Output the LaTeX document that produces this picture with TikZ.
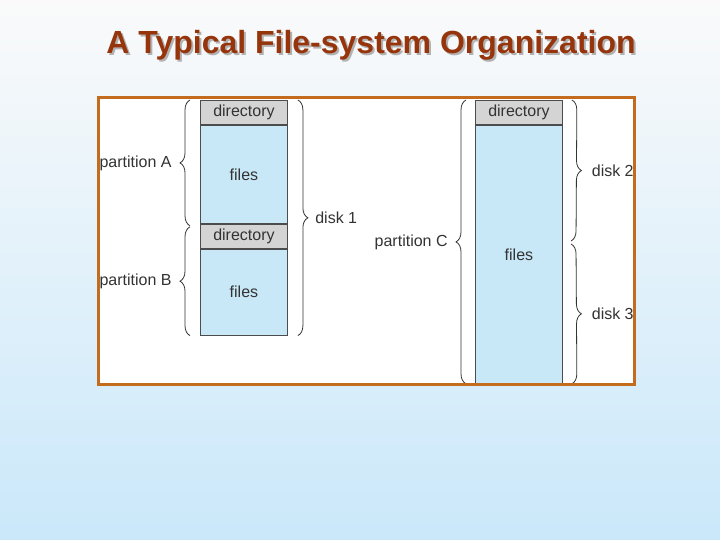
\documentclass[tikz,border=0pt]{standalone}
\usepackage{fontspec}
\setmainfont{Liberation Sans}
\usetikzlibrary{decorations.pathreplacing}

\definecolor{titlebrown}{RGB}{150,52,12}
\definecolor{frameorange}{RGB}{196,108,30}
\definecolor{dirgrey}{RGB}{212,212,212}
\definecolor{fileblue}{RGB}{200,232,248}
\definecolor{bgtop}{RGB}{250,250,250}
\definecolor{bgbottom}{RGB}{202,232,250}

\begin{document}
\begin{tikzpicture}[x=1pt, y=-1pt,
  cell/.style={draw=black!70, line width=0.9pt, inner sep=0pt, anchor=north west,
    minimum width=87pt, font=\fontsize{16}{18}\selectfont, text=black!80},
  dircell/.style={cell, fill=dirgrey, minimum height=24pt},
  filecell/.style={cell, fill=fileblue},
  brace/.style={decorate, decoration={brace, amplitude=10pt}, line width=0.8pt, black!80},
  lbl/.style={font=\fontsize{16}{18}\selectfont, text=black!80, inner sep=0pt}]
% background
\shade[top color=bgtop, bottom color=bgbottom] (0,0) rectangle (720,540);
\useasboundingbox (0,0) rectangle (720,540);

% title with shadow
\path (373,47) node[font=\fontsize{32}{36}\selectfont\bfseries, text=black!30] {A Typical File-system Organization};
\path (371,45) node[font=\fontsize{32}{36}\selectfont\bfseries, text=titlebrown] (title) {A Typical File-system Organization};

\fill[white] (98,98) rectangle (634,384);

\begin{scope}
\clip (98,98) rectangle (634,384);
% disk 1: partitions A and B
\node[dircell] (dirA) at (200,100) {directory};
\node[filecell, minimum height=98pt] (filesA) at (dirA.south west) {files};
\node[dircell] (dirB) at (filesA.south west) {directory};
\node[filecell, minimum height=86pt] (filesB) at (dirB.south west) {files};

% disks 2 and 3: partition C
\node[dircell] (dirC) at (475,100) {directory};
\node[filecell, minimum height=258pt] (filesC) at (dirC.south west) {files};
\coordinate (split) at (571,242);

\draw[brace] ([shift={(-10pt,-2pt)}]filesA.south west) -- ([xshift=-10pt]dirA.north west)
  node[midway, left=18pt, lbl] {partition A};
\draw[brace] ([xshift=-10pt]filesB.south west) -- ([shift={(-10pt,-3pt)}]dirB.north west)
  node[midway, left=18pt, lbl] {partition B};
\draw[brace] ([xshift=10pt]dirA.north east) -- ([xshift=10pt]filesB.south east)
  node[midway, right=17pt, lbl] {disk 1};
\draw[brace] ([xshift=-9pt]filesC.south west) -- ([xshift=-9pt]dirC.north west)
  node[midway, left=18pt, lbl] {partition C};
\draw[brace] ([xshift=9pt]dirC.north east) -- ([yshift=1pt]split)
  node[midway, right=20pt, lbl] {disk 2};
\draw[brace] ([yshift=-2pt]split) -- ([xshift=9pt]filesC.south east)
  node[midway, right=20pt, lbl] {disk 3};
\end{scope}

\draw[frameorange, line width=3pt] (98,98) rectangle (634,384);
\end{tikzpicture}
\end{document}
